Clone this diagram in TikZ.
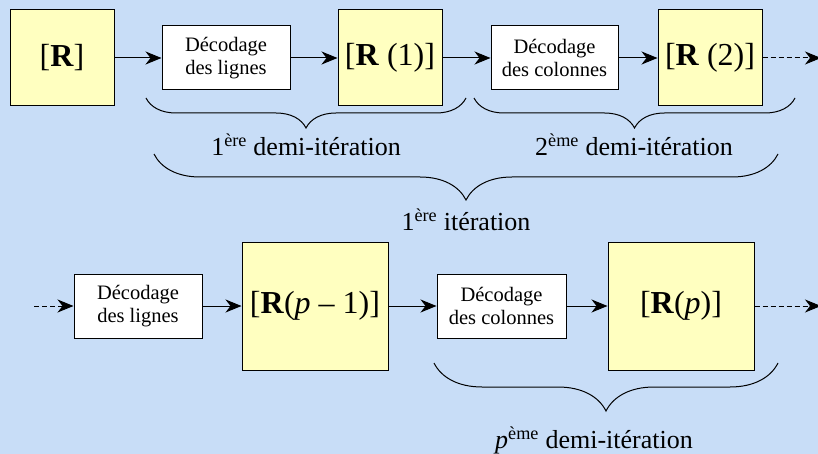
\documentclass[tikz,border=0pt]{standalone}
\usepackage{fontspec}
\setmainfont{Liberation Serif}
\usetikzlibrary{arrows.meta,decorations.pathreplacing}
\definecolor{bgblue}{RGB}{200,221,247}
\definecolor{boxyellow}{RGB}{255,255,192}
\begin{document}
\begin{tikzpicture}[x=1pt,y=-1pt,
  rbox/.style={draw=black,line width=1pt,fill=boxyellow,inner sep=0pt,font=\fontsize{32}{36}\selectfont},
  dbox/.style={draw=black,line width=1pt,fill=white,inner sep=0pt,align=center,font=\fontsize{20.5}{23}\selectfont},
  conn/.style={line width=1pt,-{Stealth[length=16pt,width=13pt,inset=5pt]}},
  dconn/.style={conn,dash pattern=on 5pt off 3pt},
  brc/.style={decorate,line width=1pt,decoration={brace,amplitude=#1}},
  lbl/.style={font=\fontsize{26}{30}\selectfont,inner sep=0pt}
]
\fill[bgblue] (0,0) rectangle (818,454);
\useasboundingbox (0,0) rectangle (818,454);
% top row
\node[rbox,minimum width=104pt,minimum height=96pt] (r0) at (62,58) {[\textbf{R}]};
\node[dbox,minimum width=128pt,minimum height=64pt] (d1) at (226,58) {Décodage\\des lignes};
\node[rbox,minimum width=104pt,minimum height=96pt] (r1) at (390,58) {[\textbf{R} (1)]};
\node[dbox,minimum width=127pt,minimum height=64pt] (d2) at (554.5,58) {Décodage\\des colonnes};
\node[rbox,minimum width=104pt,minimum height=96pt] (r2) at (710,58) {[\textbf{R} (2)]};
\coordinate (e1) at (821,58);
\draw[conn] (r0) -- (d1);
\draw[conn] (d1) -- (r1);
\draw[conn] (r1) -- (d2);
\draw[conn] (d2) -- (r2);
\draw[dconn] (r2) -- (e1);
% braces top
\coordinate (b1a) at (146,98); \coordinate (b1b) at (466,98);
\coordinate (b2a) at (474,98); \coordinate (b2b) at (795,98);
\coordinate (b3a) at (154,154); \coordinate (b3b) at (778,154);
\draw[brc=30pt] (b1b) -- (b1a);
\draw[brc=30pt] (b2b) -- (b2a);
\draw[brc=46pt] (b3b) -- (b3a);
\node[lbl] (l1) at (306,145) {1\textsuperscript{ère} demi-itération};
\node[lbl] (l2) at (634,145) {2\textsuperscript{ème} demi-itération};
\node[lbl] (l3) at (466,220) {1\textsuperscript{ère} itération};
% bottom row
\coordinate (s2) at (34,306);
\node[dbox,minimum width=128pt,minimum height=64pt] (d3) at (138,306) {Décodage\\des lignes};
\node[rbox,minimum width=146pt,minimum height=128pt] (r3) at (315,306) {[\textbf{R}(\textit{p} – 1)]};
\node[dbox,minimum width=129pt,minimum height=64pt] (d4) at (501.5,306) {Décodage\\des colonnes};
\node[rbox,minimum width=146pt,minimum height=128pt] (r4) at (681,306) {[\textbf{R}(\textit{p})]};
\coordinate (e2) at (821,306);
\draw[dconn] (s2) -- (d3);
\draw[conn] (d3) -- (r3);
\draw[conn] (r3) -- (d4);
\draw[conn] (d4) -- (r4);
\draw[dconn] (r4) -- (e2);
\coordinate (b4a) at (434,363); \coordinate (b4b) at (778,363);
\draw[brc=48pt] (b4b) -- (b4a);
\node[lbl] (l4) at (594,440) {\textit{p}\textsuperscript{ème} demi-itération};
\end{tikzpicture}
\end{document}
